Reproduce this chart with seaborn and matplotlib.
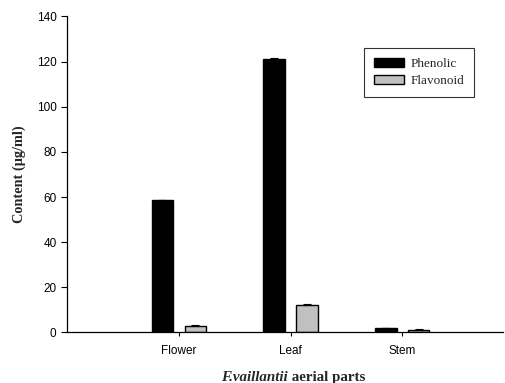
import matplotlib
matplotlib.use("Agg")
import matplotlib.pyplot as plt
import seaborn as sns
import pandas as pd
import numpy as np

parts = ["Flower", "Leaf", "Stem"]
series = ["Phenolic", "Flavonoid"]
phenolic = [58.5, 121.0, 2.0]
flavonoid = [2.7, 12.0, 1.2]
phenolic_err = [0.4, 0.8, 0.2]
flavonoid_err = [0.7, 0.4, 0.2]
y_ticks = [0, 20, 40, 60, 80, 100, 120, 140]

df = pd.DataFrame({
    "part": parts * 2,
    "series": [series[0]] * 3 + [series[1]] * 3,
    "value": phenolic + flavonoid,
    "err": phenolic_err + flavonoid_err,
})

sns.set_style("white")
plt.rcParams["font.family"] = ["Liberation Sans", "DejaVu Sans"]

fig = plt.figure(figsize=(5.05, 3.83), dpi=100)
ax = fig.add_axes([0.1327, 0.1319, 0.8633, 0.8251])

sns.barplot(data=df, x="part", y="value", hue="series", order=parts, hue_order=series,
            palette=["#000000", "#c0c0c0"], width=0.59, gap=0.356, errorbar=None,
            edgecolor="black", linewidth=1.0, ax=ax)

# error bars (upper cap only) on each bar
for cont, s in zip(ax.containers, series):
    sub = df[df["series"] == s].set_index("part").loc[parts]
    xs = [p.get_x() + p.get_width() / 2 for p in cont.patches]
    ax.errorbar(xs, sub["value"], yerr=[np.zeros(3), sub["err"]], fmt="none",
                ecolor="black", elinewidth=0.8, capsize=3, capthick=0.8)

ax.set_xlim(-1.0, 2.9)
ax.set_ylim(0, 140)
ax.set_yticks(y_ticks)
ax.tick_params(axis="both", direction="out", length=4, width=0.8, labelsize=8.5,
               colors="black", left=True, bottom=True)
ax.tick_params(axis="x", length=3, pad=6)
for sp in ["top", "right"]:
    ax.spines[sp].set_visible(False)
for sp in ["left", "bottom"]:
    ax.spines[sp].set_color("black")
    ax.spines[sp].set_linewidth(0.9)

ax.set_xlabel("")
ax.set_ylabel("Content (µg/ml)", family=["Liberation Serif", "DejaVu Serif"],
              fontweight="bold", fontsize=10.3, labelpad=8)

t1 = fig.text(0.4376, 0.004, "F.vaillantii", family=["Liberation Serif"], fontweight="bold",
              style="italic", fontsize=10.8, va="baseline", ha="left")
ax.annotate(" aerial parts", xy=(1, 0), xycoords=t1, va="bottom", ha="left",
            family=["Liberation Serif"], fontweight="bold", fontsize=10.8)

leg = ax.legend(loc="upper left", bbox_to_anchor=(0.681, 0.900), frameon=True, fancybox=False,
                prop={"family": "Liberation Serif", "size": 9.5}, handlelength=2.3,
                handleheight=0.7, labelspacing=0.35, borderpad=0.75, handletextpad=0.5,
                borderaxespad=0, title=None)
leg.get_frame().set_edgecolor("black")
leg.get_frame().set_linewidth(0.8)
leg.get_frame().set_boxstyle("square", pad=0)

fig.savefig("out.png", dpi=100)
